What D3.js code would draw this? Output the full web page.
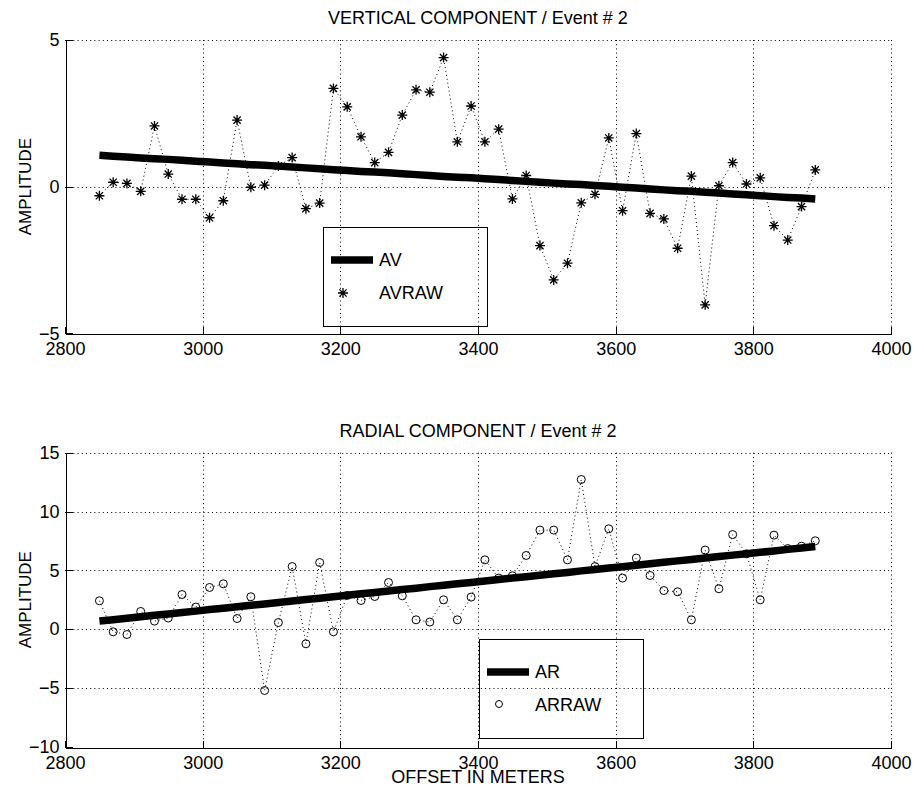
<!DOCTYPE html>
<html>
<head>
<meta charset="utf-8">
<script src="https://cdn.jsdelivr.net/npm/d3@7"></script>
<style>
  body { margin: 0; background: #fff; }
  text { font-family: "Liberation Sans", Arial, Helvetica, sans-serif; fill: #000; }
</style>
</head>
<body>
<svg id="chart" width="916" height="791"></svg>
<script>
// offsets (m) shared by both components
const offsets = [2850, 2870, 2890, 2910, 2930, 2950, 2970, 2990, 3010, 3030,
  3050, 3070, 3090, 3110, 3130, 3150, 3170, 3190, 3210, 3230,
  3250, 3270, 3290, 3310, 3330, 3350, 3370, 3390, 3410, 3430,
  3450, 3470, 3490, 3510, 3530, 3550, 3570, 3590, 3610, 3630,
  3650, 3670, 3690, 3710, 3730, 3750, 3770, 3790, 3810, 3830,
  3850, 3870, 3890];

// vertical component
const avRaw = [-0.31, 0.15, 0.11, -0.16, 2.07, 0.43, -0.43, -0.43, -1.06, -0.48,
  2.27, -0.02, 0.05, 0.70, 0.99, -0.75, -0.56, 3.35, 2.72, 1.70,
  0.82, 1.17, 2.44, 3.30, 3.22, 4.40, 1.53, 2.75, 1.53, 1.96,
  -0.42, 0.38, -2.01, -3.18, -2.61, -0.55, -0.26, 1.66, -0.82, 1.81,
  -0.91, -1.10, -2.10, 0.36, -4.03, 0.03, 0.82, 0.09, 0.30, -1.33,
  -1.82, -0.68, 0.57];
const av = [1.07, 1.04, 1.01, 0.98, 0.95, 0.93, 0.90, 0.87, 0.84, 0.81,
  0.78, 0.75, 0.73, 0.70, 0.67, 0.64, 0.61, 0.58, 0.55, 0.52,
  0.50, 0.47, 0.44, 0.41, 0.38, 0.35, 0.32, 0.30, 0.27, 0.24,
  0.21, 0.18, 0.15, 0.12, 0.09, 0.07, 0.04, 0.01, -0.02, -0.05,
  -0.08, -0.11, -0.14, -0.16, -0.19, -0.22, -0.25, -0.28, -0.31, -0.34,
  -0.37, -0.39, -0.42];

// radial component
const arRaw = [2.41, -0.23, -0.46, 1.50, 0.68, 0.94, 2.94, 1.87, 3.54, 3.85,
  0.90, 2.75, -5.22, 0.56, 5.32, -1.25, 5.66, -0.23, 2.86, 2.43,
  2.77, 3.96, 2.83, 0.79, 0.60, 2.49, 0.79, 2.72, 5.89, 4.34,
  4.53, 6.26, 8.42, 8.42, 5.89, 12.72, 5.32, 8.53, 4.34, 6.04,
  4.56, 3.28, 3.17, 0.79, 6.72, 3.43, 8.04, 6.40, 2.49, 7.99,
  6.85, 7.05, 7.51];
const ar = [0.68, 0.80, 0.92, 1.05, 1.17, 1.29, 1.41, 1.53, 1.66, 1.78,
  1.90, 2.02, 2.14, 2.26, 2.39, 2.51, 2.63, 2.75, 2.87, 3.00,
  3.12, 3.24, 3.36, 3.48, 3.61, 3.73, 3.85, 3.97, 4.09, 4.22,
  4.34, 4.46, 4.58, 4.70, 4.82, 4.95, 5.07, 5.19, 5.31, 5.43,
  5.56, 5.68, 5.80, 5.92, 6.04, 6.17, 6.29, 6.41, 6.53, 6.65,
  6.78, 6.90, 7.02];

const xTicks = [2800, 3000, 3200, 3400, 3600, 3800, 4000];
const yTicksV = [-5, 0, 5];
const yTicksR = [-10, -5, 0, 5, 10, 15];

const svg = d3.select('#chart');
const FONT = 18;

const x = d3.scaleLinear().domain([2800, 4000]).range([65, 891]);

const starPath = 'M-5,0H5M0,-5V5M-3.6,-3.6L3.6,3.6M-3.6,3.6L3.6,-3.6';

function drawPanel(opt) {
  const y = opt.y;
  const g = svg.append('g');
  const top = y.range()[1], bottom = y.range()[0];
  const left = x.range()[0], right = x.range()[1];

  // dotted grid
  g.selectAll('.vg').data(xTicks.slice(1)).enter().append('line')
    .attr('x1', d => Math.round(x(d)) + 0.5).attr('x2', d => Math.round(x(d)) + 0.5)
    .attr('y1', top).attr('y2', bottom)
    .attr('stroke', '#000').attr('stroke-width', 1).attr('stroke-dasharray', '1,3.2');
  g.selectAll('.hg').data(opt.yTicks.slice(1)).enter().append('line')
    .attr('y1', d => Math.round(y(d)) + 0.5).attr('y2', d => Math.round(y(d)) + 0.5)
    .attr('x1', left).attr('x2', right)
    .attr('stroke', '#000').attr('stroke-width', 1).attr('stroke-dasharray', '1,3.2');

  // axes, ticks inward
  const xa = g.append('g').attr('transform', `translate(0,${Math.round(bottom) + 0.5})`)
    .call(d3.axisBottom(x).tickValues(xTicks).tickFormat(d3.format('d'))
      .tickSizeInner(-7).tickSizeOuter(0).tickPadding(9));
  const ya = g.append('g').attr('transform', `translate(${Math.round(left) + 0.5},0)`)
    .call(d3.axisLeft(y).tickValues(opt.yTicks).tickFormat(d => d < 0 ? '\u2212' + Math.abs(d) : d)
      .tickSizeInner(-7).tickSizeOuter(0).tickPadding(6));
  [xa, ya].forEach(a => {
    a.attr('font-family', null).attr('font-size', null);
    a.selectAll('text').style('font-size', FONT + 'px');
    a.selectAll('path, line').attr('stroke', '#000').attr('shape-rendering', 'crispEdges');
  });

  // raw data dotted line
  const line = d3.line().x((d, i) => x(offsets[i])).y(d => y(d));
  g.append('path').datum(opt.raw).attr('d', line)
    .attr('fill', 'none').attr('stroke', '#000').attr('stroke-width', 1)
    .attr('stroke-dasharray', '1,3');

  // fitted thick line
  g.append('path').datum(opt.fit).attr('d', line)
    .attr('fill', 'none').attr('stroke', '#000').attr('stroke-width', 7.5)
    .attr('stroke-linecap', 'butt');

  // markers
  const mk = g.selectAll('.mk').data(opt.raw).enter();
  if (opt.marker === 'star') {
    mk.append('path').attr('d', starPath)
      .attr('transform', (d, i) => `translate(${x(offsets[i])},${y(d)})`)
      .attr('stroke', '#000').attr('stroke-width', 1.3).attr('fill', 'none');
  } else {
    mk.append('circle').attr('cx', (d, i) => x(offsets[i])).attr('cy', d => y(d))
      .attr('r', 4).attr('fill', 'none').attr('stroke', '#000').attr('stroke-width', 1);
  }

  // title and y label
  g.append('text').attr('x', 478).attr('y', opt.titleY).attr('text-anchor', 'middle')
    .style('font-size', FONT + 'px').text(opt.title);
  g.append('text').attr('transform', `translate(30.5,${(top + bottom) / 2}) rotate(-90)`)
    .attr('text-anchor', 'middle').style('font-size', '17px').text('AMPLITUDE');

  // legend (transparent box)
  const L = opt.legend;
  const lg = g.append('g').attr('transform', `translate(${L.x},${L.y})`);
  lg.append('rect').attr('x', 0.5).attr('y', 0.5).attr('width', 164).attr('height', 99)
    .attr('fill', 'none').attr('stroke', '#000').attr('stroke-width', 1);
  lg.append('line').attr('x1', 8).attr('x2', 50).attr('y1', 33).attr('y2', 33)
    .attr('stroke', '#000').attr('stroke-width', 7.5);
  lg.append('text').attr('x', 56).attr('y', 33).attr('dy', '0.36em')
    .style('font-size', FONT + 'px').text(L.fitName);
  if (opt.marker === 'star') {
    lg.append('path').attr('d', starPath).attr('transform', 'translate(20,66)')
      .attr('stroke', '#000').attr('stroke-width', 1.3).attr('fill', 'none');
  } else {
    lg.append('circle').attr('cx', 20).attr('cy', 65).attr('r', 3.5)
      .attr('fill', 'none').attr('stroke', '#000');
  }
  lg.append('text').attr('x', 56).attr('y', 66).attr('dy', '0.36em')
    .style('font-size', FONT + 'px').text(L.rawName);
}

drawPanel({
  y: d3.scaleLinear().domain([-5, 5]).range([333.3, 40]),
  yTicks: yTicksV, raw: avRaw, fit: av, marker: 'star',
  title: 'VERTICAL COMPONENT / Event # 2', titleY: 23.5,
  legend: { x: 323, y: 227, fitName: 'AV', rawName: 'AVRAW' }
});

drawPanel({
  y: d3.scaleLinear().domain([-10, 15]).range([746.7, 452.7]),
  yTicks: yTicksR, raw: arRaw, fit: ar, marker: 'circle',
  title: 'RADIAL COMPONENT / Event # 2', titleY: 437,
  legend: { x: 479, y: 639, fitName: 'AR', rawName: 'ARRAW' }
});

svg.append('text').attr('x', 478).attr('y', 783).attr('text-anchor', 'middle')
  .style('font-size', FONT + 'px').text('OFFSET IN METERS');
</script>
</body>
</html>
